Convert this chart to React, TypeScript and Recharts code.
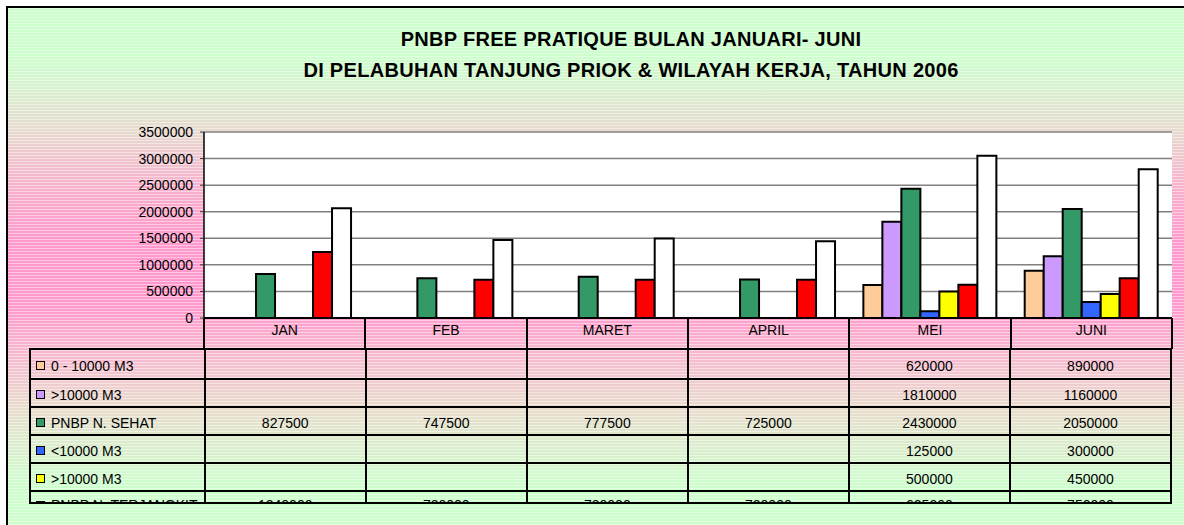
import React from "react";
import { BarChart, Bar, XAxis, YAxis, CartesianGrid } from "recharts";

const months = ["JAN", "FEB", "MARET", "APRIL", "MEI", "JUNI"];
const seriesNames = [
  "0 - 10000 M3",
  ">10000 M3",
  "PNBP N. SEHAT",
  "<10000 M3",
  ">10000 M3",
  "PNBP N. TERJANGKIT",
  "JUMLAH",
];
const kapalKecil = [null, null, null, null, 620000, 890000];
const kapalBesar = [null, null, null, null, 1810000, 1160000];
const pnbpSehat = [827500, 747500, 777500, 725000, 2430000, 2050000];
const terjangkitKecil = [null, null, null, null, 125000, 300000];
const terjangkitBesar = [null, null, null, null, 500000, 450000];
const pnbpTerjangkit = [1240000, 720000, 720000, 720000, 625000, 750000];
const jumlah = [2067500, 1467500, 1497500, 1445000, 3055000, 2800000];
const yTicks = [0, 500000, 1000000, 1500000, 2000000, 2500000, 3000000, 3500000];

const seriesValues = [
  kapalKecil,
  kapalBesar,
  pnbpSehat,
  terjangkitKecil,
  terjangkitBesar,
  pnbpTerjangkit,
  jumlah,
];
const colors = ["#FFCC99", "#CC99FF", "#339966", "#3366FF", "#FFFF00", "#FF0000", "#FFFFFF"];

const data = months.map((m, i) => {
  const row: Record<string, string | number | null> = { month: m };
  seriesValues.forEach((s, k) => {
    row["s" + k] = s[i];
  });
  return row;
});

const FONT = "'Liberation Sans', Arial, sans-serif";
const PLOT_LEFT = 204;
const PLOT_RIGHT = 1172;
const COL_W = (PLOT_RIGHT - PLOT_LEFT) / months.length;
const rowHeights = [30, 28, 28, 28, 28, 28, 28];

const background =
  "repeating-linear-gradient(to bottom, rgba(255,255,255,0.45) 0px, rgba(255,255,255,0.45) 1px, rgba(255,255,255,0) 1px, rgba(255,255,255,0) 3px)," +
  "linear-gradient(to bottom, #CCFFCC 0px, #CCFFCC 50px, #E6DCCF 120px, #F8B0CC 180px, #FF99CC 235px, #FF99CC 300px, #F6BCD0 350px, #E8DCCC 400px, #D8F0CC 445px, #CCFFCC 480px)";

function XTick(props: any) {
  const { x, y, payload } = props;
  return (
    <text x={x} y={y} dy={9} textAnchor="middle" fontSize={14} fill="#000" fontFamily={FONT}>
      {payload.value}
    </text>
  );
}

const titleStyle: React.CSSProperties = {
  position: "absolute",
  left: 131,
  width: 1000,
  textAlign: "center",
  fontWeight: "bold",
  fontSize: 20,
  letterSpacing: 0.3,
  lineHeight: "22px",
  whiteSpace: "nowrap",
};

export default function App() {
  return (
    <div
      style={{
        position: "absolute",
        left: 0,
        top: 0,
        width: 1184,
        height: 525,
        overflow: "hidden",
        fontFamily: FONT,
      }}
    >
      <div
        style={{
          position: "absolute",
          left: 6,
          top: 6,
          width: 1200,
          height: 540,
          border: "2px solid #000",
          background,
        }}
      />
      <div style={{ ...titleStyle, top: 28 }}>PNBP FREE PRATIQUE BULAN JANUARI- JUNI</div>
      <div style={{ ...titleStyle, top: 59 }}>
        DI PELABUHAN TANJUNG PRIOK &amp; WILAYAH KERJA, TAHUN 2006
      </div>

      {/* category header row borders */}
      <div
        style={{
          position: "absolute",
          left: PLOT_LEFT - 1,
          top: 318,
          width: PLOT_RIGHT - PLOT_LEFT,
          height: 31,
          display: "flex",
          borderRight: "2px solid #000",
        }}
      >
        {months.map((m) => (
          <div key={m} style={{ width: COL_W, height: 31, borderLeft: "2px solid #000", boxSizing: "border-box" }} />
        ))}
      </div>

      {/* data table */}
      <div
        style={{
          position: "absolute",
          left: 29,
          top: 348,
          width: PLOT_RIGHT - 29,
          height: 156,
          overflow: "hidden",
          borderLeft: "2px solid #000",
          borderRight: "2px solid #000",
          borderBottom: "2px solid #000",
          boxSizing: "border-box",
          fontSize: 14,
        }}
      >
        {seriesNames.map((name, k) => (
          <div
            key={k}
            style={{
              display: "flex",
              height: rowHeights[k],
              borderTop: "2px solid #000",
              boxSizing: "border-box",
            }}
          >
            <div
              style={{
                width: PLOT_LEFT - 31,
                display: "flex",
                alignItems: "center",
                paddingTop: k === 5 ? 0 : 3,
                boxSizing: "border-box",
                whiteSpace: "nowrap",
              }}
            >
              <span
                style={{
                  display: "inline-block",
                  width: 7,
                  height: 7,
                  border: "1.5px solid #000",
                  background: colors[k],
                  marginLeft: 5,
                  marginRight: 6,
                }}
              />
              <span>{name}</span>
            </div>
            {months.map((m, i) => (
              <div
                key={m}
                style={{
                  width: COL_W,
                  borderLeft: "2px solid #000",
                  boxSizing: "border-box",
                  display: "flex",
                  alignItems: "center",
                  justifyContent: "center",
                  paddingTop: k === 5 ? 0 : 3,
                }}
              >
                {seriesValues[k][i] ?? ""}
              </div>
            ))}
          </div>
        ))}
      </div>

      <div style={{ position: "absolute", left: 0, top: 0 }}>
        <BarChart
          width={1184}
          height={525}
          data={data}
          margin={{ top: 132, right: 12, bottom: 176, left: 144 }}
          barCategoryGap="8.7%"
          barGap={0}
        >
          <CartesianGrid vertical={false} stroke="#808080" strokeWidth={1.5} fill="#FFFFFF" fillOpacity={1} />
          <XAxis
            dataKey="month"
            height={31}
            axisLine={{ stroke: "#000", strokeWidth: 2 }}
            tickLine={false}
            tick={<XTick />}
            interval={0}
          />
          <YAxis
            width={60}
            domain={[0, 3500000]}
            ticks={yTicks}
            interval={0}
            tick={{ fontSize: 14, fill: "#000", fontFamily: FONT }}
            tickSize={4}
            tickMargin={7}
            tickLine={{ stroke: "#333" }}
            axisLine={{ stroke: "#000", strokeWidth: 1.5 }}
          />
          <YAxis
            yAxisId="r"
            orientation="right"
            width={0}
            tick={false}
            tickLine={false}
            axisLine={{ stroke: "#808080", strokeWidth: 1.5 }}
          />
          {seriesValues.map((_, k) => (
            <Bar
              key={k}
              dataKey={"s" + k}
              name={seriesNames[k]}
              fill={colors[k]}
              stroke="#000"
              strokeWidth={2}
              isAnimationActive={false}
            />
          ))}
        </BarChart>
      </div>
    </div>
  );
}
